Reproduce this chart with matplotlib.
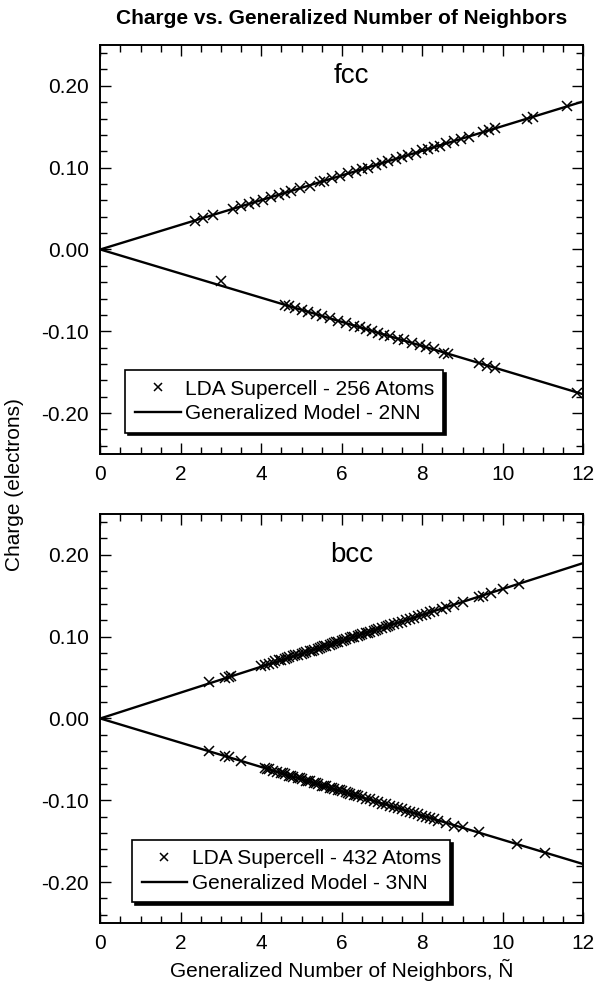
import matplotlib
matplotlib.use('Agg')
import matplotlib.pyplot as plt
from matplotlib.ticker import MultipleLocator, FormatStrFormatter

plt.rcParams['font.family'] = ['Liberation Sans', 'DejaVu Sans']
plt.rcParams['axes.unicode_minus'] = False

# fcc, LDA supercell 256 atoms
fcc_pos_x = [2.35, 2.55, 2.8, 3.3, 3.5, 3.7, 3.85, 4.05, 4.25, 4.45, 4.6, 4.75, 4.95, 5.2, 5.45,
             5.55, 5.75, 5.95, 6.15, 6.35, 6.5, 6.65, 6.85, 7.0, 7.15, 7.35, 7.5, 7.65, 7.85, 8.0,
             8.15, 8.3, 8.45, 8.6, 8.8, 8.95, 9.15, 9.5, 9.65, 9.8, 10.6, 10.75, 11.6]
fcc_pos_y = [0.035, 0.038, 0.042, 0.050, 0.053, 0.056, 0.058, 0.061, 0.064, 0.067, 0.069, 0.072,
             0.075, 0.078, 0.082, 0.084, 0.087, 0.090, 0.093, 0.096, 0.098, 0.100, 0.103, 0.106,
             0.108, 0.111, 0.113, 0.115, 0.118, 0.121, 0.123, 0.125, 0.127, 0.130, 0.133, 0.135,
             0.138, 0.143, 0.146, 0.148, 0.160, 0.162, 0.175]
fcc_neg_x = [3.0, 4.6, 4.7, 4.85, 5.0, 5.15, 5.35, 5.5, 5.7, 5.9, 6.1, 6.3, 6.45, 6.6, 6.75, 6.9,
             7.05, 7.2, 7.4, 7.55, 7.75, 7.95, 8.1, 8.3, 8.55, 8.65, 9.4, 9.6, 9.8, 11.85]
fcc_neg_y = [-0.039, -0.068, -0.069, -0.072, -0.074, -0.076, -0.079, -0.081, -0.084, -0.087,
             -0.090, -0.093, -0.095, -0.097, -0.100, -0.102, -0.104, -0.106, -0.109, -0.111,
             -0.114, -0.117, -0.119, -0.122, -0.126, -0.128, -0.139, -0.142, -0.145, -0.175]

# bcc, LDA supercell 432 atoms
bcc_pos_x = [2.7, 3.1, 3.2, 3.25, 4.0, 4.1, 4.2, 4.3, 4.35, 4.45, 4.5, 4.6, 4.65, 4.7, 4.8, 4.85,
             4.9, 5.0, 5.05, 5.1, 5.2, 5.25, 5.3, 5.4, 5.45, 5.5, 5.55, 5.6, 5.7, 5.75, 5.8, 5.85,
             5.9, 6.0, 6.05, 6.1, 6.2, 6.25, 6.3, 6.4, 6.45, 6.5, 6.6, 6.65, 6.7, 6.8, 6.85, 6.9,
             7.0, 7.1, 7.15, 7.2, 7.3, 7.4, 7.5, 7.6, 7.7, 7.8, 7.9, 8.0, 8.1, 8.2, 8.3, 8.5, 8.6,
             8.8, 9.0, 9.4, 9.5, 9.7, 10.0, 10.4]
bcc_pos_y = [0.044, 0.049, 0.051, 0.052, 0.064, 0.065, 0.067, 0.068, 0.070, 0.071, 0.072, 0.073,
             0.074, 0.075, 0.076, 0.077, 0.078, 0.079, 0.080, 0.081, 0.082, 0.083, 0.084, 0.085,
             0.086, 0.087, 0.088, 0.088, 0.090, 0.091, 0.092, 0.093, 0.093, 0.095, 0.096, 0.097,
             0.098, 0.099, 0.100, 0.101, 0.102, 0.103, 0.104, 0.105, 0.106, 0.107, 0.108, 0.109,
             0.111, 0.112, 0.113, 0.114, 0.115, 0.117, 0.118, 0.120, 0.122, 0.123, 0.125, 0.126,
             0.128, 0.130, 0.131, 0.134, 0.136, 0.139, 0.142, 0.149, 0.150, 0.153, 0.158, 0.164]
bcc_neg_x = [2.7, 3.1, 3.2, 3.5, 4.1, 4.15, 4.2, 4.3, 4.4, 4.5, 4.55, 4.6, 4.7, 4.75, 4.8, 4.9,
             4.95, 5.0, 5.1, 5.15, 5.2, 5.3, 5.35, 5.4, 5.5, 5.55, 5.6, 5.7, 5.75, 5.8, 5.9, 5.95,
             6.0, 6.1, 6.15, 6.2, 6.3, 6.35, 6.4, 6.5, 6.6, 6.7, 6.8, 6.9, 7.0, 7.1, 7.2, 7.3, 7.4,
             7.5, 7.6, 7.7, 7.8, 7.9, 8.0, 8.1, 8.2, 8.3, 8.4, 8.6, 8.8, 9.0, 9.4, 10.35, 11.05]
bcc_neg_y = [-0.040, -0.046, -0.047, -0.052, -0.061, -0.062, -0.062, -0.064, -0.065, -0.067,
             -0.067, -0.068, -0.070, -0.070, -0.071, -0.073, -0.073, -0.074, -0.076, -0.076,
             -0.077, -0.079, -0.079, -0.080, -0.082, -0.082, -0.083, -0.085, -0.085, -0.086,
             -0.088, -0.088, -0.089, -0.090, -0.091, -0.092, -0.093, -0.094, -0.095, -0.096,
             -0.098, -0.099, -0.101, -0.102, -0.104, -0.105, -0.107, -0.108, -0.110, -0.111,
             -0.113, -0.114, -0.116, -0.117, -0.119, -0.120, -0.122, -0.123, -0.125, -0.128,
             -0.131, -0.133, -0.139, -0.153, -0.164]

# generalized model lines (end points)
model_x = [0, 12]
fcc_model_pos = [0, 0.181]
fcc_model_neg = [0, -0.177]
bcc_model_pos = [0, 0.190]
bcc_model_neg = [0, -0.178]

panels = [
    ('fcc', 0.925, fcc_pos_x, fcc_pos_y, fcc_neg_x, fcc_neg_y, fcc_model_pos, fcc_model_neg,
     'LDA Supercell - 256 Atoms', 'Generalized Model - 2NN', (0.052, 0.205)),
    ('bcc', 0.90, bcc_pos_x, bcc_pos_y, bcc_neg_x, bcc_neg_y, bcc_model_pos, bcc_model_neg,
     'LDA Supercell - 432 Atoms', 'Generalized Model - 3NN', (0.066, 0.203)),
]

fig = plt.figure(figsize=(5.97, 9.88), dpi=100)
ax_top = fig.add_axes([0.168, 0.5405, 0.809, 0.414])
ax_bot = fig.add_axes([0.168, 0.0658, 0.809, 0.414])

for ax, p in zip([ax_top, ax_bot], panels):
    name, name_y, px, py, nx, ny, mpos, mneg, lab_pts, lab_line, anchor = p
    ax.plot(model_x, mpos, color='black', lw=1.7, label=lab_line)
    ax.plot(model_x, mneg, color='black', lw=1.7)
    ax.plot(px, py, 'x', color='black', ms=7.5, mew=1.1, label=lab_pts)
    ax.plot(nx, ny, 'x', color='black', ms=7.5, mew=1.1)
    ax.set_xlim(0, 12)
    ax.set_ylim(-0.25, 0.25)
    ax.xaxis.set_major_locator(MultipleLocator(2))
    ax.xaxis.set_minor_locator(MultipleLocator(0.5))
    ax.yaxis.set_major_locator(MultipleLocator(0.1))
    ax.yaxis.set_minor_locator(MultipleLocator(0.02))
    ax.yaxis.set_major_formatter(FormatStrFormatter('%.2f'))
    ax.tick_params(which='both', direction='in', top=True, right=True, labelsize=15, width=1.0)
    ax.tick_params(which='major', length=8, pad=8)
    ax.tick_params(which='minor', length=5)
    for s in ax.spines.values():
        s.set_linewidth(1.4)
    ax.text(0.52, name_y, name, transform=ax.transAxes, ha='center', va='center', fontsize=20)
    h, l = ax.get_legend_handles_labels()
    leg = ax.legend([h[1], h[0]], [l[1], l[0]], loc='upper left', bbox_to_anchor=anchor,
                    fontsize=15, frameon=True, fancybox=False, edgecolor='black',
                    shadow={'color': 'black', 'alpha': 1}, framealpha=1,
                    handlelength=2.2, handletextpad=0.2, labelspacing=0.27, borderpad=0.45,
                    borderaxespad=0, markerscale=0.7)
    leg.get_frame().set_linewidth(1.2)

ax_bot.set_xlabel('Generalized Number of Neighbors, Ñ', fontsize=15)
fig.text(0.572, 0.981, 'Charge vs. Generalized Number of Neighbors', ha='center', va='center',
         fontsize=15, fontweight='bold')
fig.text(0.025, 0.51, 'Charge (electrons)', rotation=90, ha='center', va='center', fontsize=15)

fig.savefig('out.png', dpi=100)
